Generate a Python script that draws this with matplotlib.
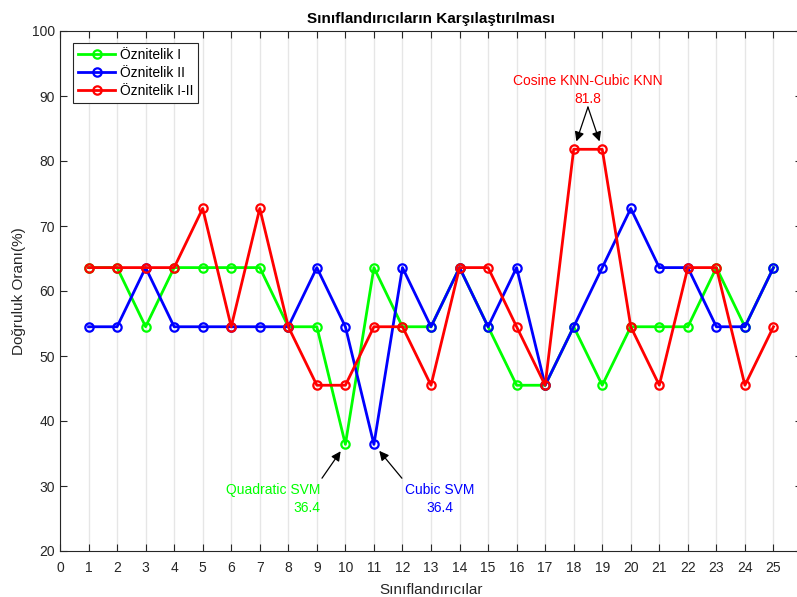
import matplotlib
matplotlib.use("Agg")
import matplotlib.pyplot as plt

plt.rcParams['font.family'] = ['Liberation Sans', 'DejaVu Sans']

siniflandiricilar = list(range(1, 26))
oznitelik_1 = [63.6, 63.6, 54.5, 63.6, 63.6, 63.6, 63.6, 54.5, 54.5, 36.4,
               63.6, 54.5, 54.5, 63.6, 54.5, 45.5, 45.5, 54.5, 45.5, 54.5,
               54.5, 54.5, 63.6, 54.5, 63.6]
oznitelik_2 = [54.5, 54.5, 63.6, 54.5, 54.5, 54.5, 54.5, 54.5, 63.6, 54.5,
               36.4, 63.6, 54.5, 63.6, 54.5, 63.6, 45.5, 54.5, 63.6, 72.7,
               63.6, 63.6, 54.5, 54.5, 63.6]
oznitelik_12 = [63.6, 63.6, 63.6, 63.6, 72.7, 54.5, 72.7, 54.5, 45.5, 45.5,
                54.5, 54.5, 45.5, 63.6, 63.6, 54.5, 45.5, 81.8, 81.8, 54.5,
                45.5, 63.6, 63.6, 45.5, 54.5]
xticks = list(range(0, 26))
yticks = list(range(20, 101, 10))

axis_col = '#262626'

fig = plt.figure(figsize=(7.97, 5.97), dpi=100)
ax = fig.add_axes([60/797, 46/597, 742/797, 520/597])

ax.plot(siniflandiricilar, oznitelik_1, color='#00ff00', lw=2.0, marker='o',
        markersize=6, mfc='none', mew=1.6, label='Öznitelik I')
ax.plot(siniflandiricilar, oznitelik_2, color='#0000ff', lw=2.0, marker='o',
        markersize=6, mfc='none', mew=1.6, label='Öznitelik II')
ax.plot(siniflandiricilar, oznitelik_12, color='#ff0000', lw=2.0, marker='o',
        markersize=6, mfc='none', mew=1.6, label='Öznitelik I-II')

ax.set_xlim(0, 26)
ax.set_ylim(20, 100)
ax.set_xticks(xticks)
ax.set_yticks(yticks)
ax.grid(axis='x', color='#e6e6e6', lw=1.0)
ax.set_axisbelow(True)
ax.tick_params(direction='in', top=True, right=True, length=5, width=0.8,
               colors=axis_col, labelsize=10)
ax.tick_params(axis='x', pad=7)
for s in ax.spines.values():
    s.set_color(axis_col)
    s.set_linewidth(0.8)

ax.set_title('Sınıflandırıcıların Karşılaştırılması', fontsize=11,
             fontweight='bold', pad=6)
ax.set_xlabel('Sınıflandırıcılar', fontsize=11, color=axis_col, labelpad=6)
ax.set_ylabel('Doğruluk Oranı(%)', fontsize=11, color=axis_col, labelpad=4)

leg = ax.legend(loc='upper left', bbox_to_anchor=(0.0175, 0.977), fontsize=10,
                fancybox=False, framealpha=1, edgecolor=axis_col,
                handlelength=2.7, borderpad=0.35, labelspacing=0.3,
                handletextpad=0.3, borderaxespad=0)
leg.get_frame().set_linewidth(0.8)

arrow = dict(arrowstyle='-|>', color='black', lw=0.9, mutation_scale=14,
             shrinkA=0, shrinkB=6)
ax.annotate('', xy=(10, oznitelik_1[9]), xytext=(9.18, 31.2), arrowprops=arrow)
ax.annotate('', xy=(11, oznitelik_2[10]), xytext=(11.98, 31.2), arrowprops=arrow)
ax.text(9.14, 28.0, 'Quadratic SVM\n36.4', color='#00ff00', fontsize=10,
        ha='right', va='center', multialignment='right', linespacing=1.35)
ax.text(13.3, 28.0, 'Cubic SVM\n36.4', color='#0000ff', fontsize=10,
        ha='center', va='center', multialignment='center', linespacing=1.35)

ax.annotate('', xy=(18, oznitelik_12[17]), xytext=(18.5, 88.3),
            arrowprops=arrow)
ax.annotate('', xy=(19, oznitelik_12[18]), xytext=(18.5, 88.3),
            arrowprops=arrow)
ax.text(18.5, 90.9, 'Cosine KNN-Cubic KNN\n81.8', color='#ff0000', fontsize=10,
        ha='center', va='center', multialignment='center', linespacing=1.35)

fig.savefig('out.png', dpi=100)
